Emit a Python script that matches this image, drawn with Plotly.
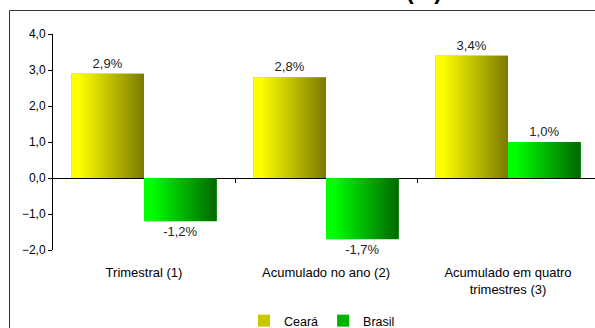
import base64
import plotly.graph_objects as go

categories = ["Trimestral (1)", "Acumulado no ano (2)", "Acumulado em quatro<br>trimestres (3)"]
ceara = [2.9, 2.8, 3.4]
brasil = [-1.2, -1.7, 1.0]
series_names = ["Ceará", "Brasil"]
y_ticks = [-2, -1, 0, 1, 2, 3, 4]
title_text = "Taxa de Crescimento (%)"

W, H = 595, 328
ML, MR, MT, MB = 53, 0, 34, 78
PW, PH = W - ML - MR, H - MT - MB
BAR_W = 0.4
X_RANGE = [-0.5, -0.5 + PW / 182.0]
Y_RANGE = [-2, 4]
FONT = "Liberation Sans, Arial, sans-serif"


def grad_uri(c0, c1):
    svg = ('<svg xmlns="http://www.w3.org/2000/svg" width="100" height="100" viewBox="0 0 100 100" '
           'preserveAspectRatio="none"><defs><linearGradient id="g" x1="0" x2="1" y1="0" y2="0">'
           f'<stop offset="0" stop-color="{c0}"/><stop offset="0.1" stop-color="{c0}"/>'
           f'<stop offset="1" stop-color="{c1}"/></linearGradient></defs>'
           '<rect width="100" height="100" fill="url(#g)"/></svg>')
    return "data:image/svg+xml;base64," + base64.b64encode(svg.encode()).decode()


styles = [
    dict(name=series_names[0], vals=ceara, offset=-BAR_W, mid="#C8C800", g=("#FFFF00", "#7A7A00")),
    dict(name=series_names[1], vals=brasil, offset=0.0, mid="#00B400", g=("#00FF00", "#006600")),
]

fig = go.Figure()
images = []
for s in styles:
    fig.add_trace(go.Bar(
        x=list(range(len(categories))), y=s["vals"], name=s["name"],
        width=BAR_W, offset=s["offset"],
        marker=dict(color=s["mid"], line=dict(width=0)),
        texttemplate="%{y:.1f}%", textposition="outside",
        textfont=dict(family=FONT, size=13, color="#222222"),
        cliponaxis=False,
    ))
    uri = grad_uri(*s["g"])
    for i, v in enumerate(s["vals"]):
        images.append(dict(
            source=uri, xref="x", yref="y",
            x=i + s["offset"], y=max(v, 0), sizex=BAR_W, sizey=abs(v),
            xanchor="left", yanchor="top", sizing="stretch", layer="above",
        ))

# empty helper trace so the axis at y=0 is drawn
fig.add_trace(go.Scatter(x=[], y=[], xaxis="x2", yaxis="y", showlegend=False, hoverinfo="skip"))

zero_frac = (0 - Y_RANGE[0]) / (Y_RANGE[1] - Y_RANGE[0])

fig.update_layout(
    width=W, height=H,
    margin=dict(l=ML, r=MR, t=MT, b=MB, pad=0, autoexpand=False),
    paper_bgcolor="white", plot_bgcolor="white",
    font=dict(family=FONT, size=12, color="#000000"),
    separators=", ",
    barmode="overlay",
    showlegend=True,
    legend=dict(orientation="h", x=(322 - ML) / PW, xanchor="center",
                y=(PH - (321 - MT)) / PH, yanchor="middle",
                font=dict(family=FONT, size=12.5, color="#000000"),
                itemwidth=30, tracegroupgap=0, bgcolor="rgba(0,0,0,0)",
                traceorder="normal"),
    xaxis=dict(
        range=X_RANGE, tickmode="array", tickvals=list(range(len(categories))),
        ticktext=categories, showline=False, showgrid=False, zeroline=False,
        ticks="outside", ticklen=10, tickcolor="rgba(0,0,0,0)",
        tickfont=dict(family=FONT, size=13, color="#000000"),
    ),
    xaxis2=dict(
        range=X_RANGE, overlaying="x", anchor="free", position=zero_frac,
        tickmode="array", tickvals=[0.5, 1.5, 2.5], showticklabels=False,
        ticks="outside", ticklen=4, tickcolor="#000000", tickwidth=1,
        showline=True, linecolor="#000000", linewidth=1,
        showgrid=False, zeroline=False,
    ),
    yaxis=dict(
        range=Y_RANGE, tickmode="array", tickvals=y_ticks, tickformat=".1f",
        showline=True, linecolor="#000000", linewidth=1,
        ticks="outside", ticklen=4, tickcolor="#000000",
        showgrid=False, zeroline=False,
        tickfont=dict(family=FONT, size=12, color="#000000"),
    ),
    images=images,
    shapes=[dict(type="rect", xref="paper", yref="paper",
                 x0=(9.5 - ML) / PW, x1=1.5, y0=-1.0, y1=(PH - (10.5 - MT)) / PH,
                 line=dict(color="#333333", width=1), fillcolor="rgba(0,0,0,0)", layer="above")],
    annotations=[dict(text="<b>" + title_text + "</b>", xref="paper", yref="paper",
                      x=(306 - ML) / PW, y=(PH - (5.5 - MT)) / PH,
                      xanchor="center", yanchor="bottom", showarrow=False,
                      font=dict(family=FONT, size=23, color="#000000"))],
)

fig.write_html("out.html")
